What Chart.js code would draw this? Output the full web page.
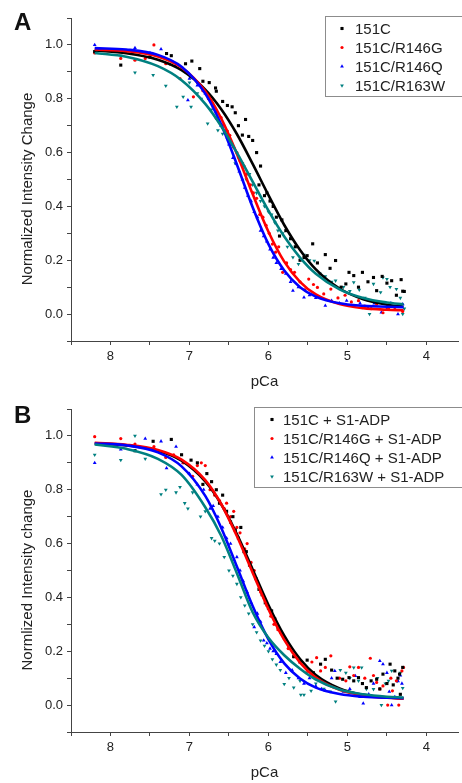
<!DOCTYPE html>
<html>
<head>
<meta charset="utf-8">
<script src="https://cdn.jsdelivr.net/npm/chart.js@4.4.0/dist/chart.umd.min.js"></script>
<style>
  body { margin: 0; background: #fff; width: 462px; height: 783px; overflow: hidden; position: relative; }
  canvas { position: absolute; left: 0; }
</style>
</head>
<body>
<canvas id="chartA" width="462" height="391" style="top:0"></canvas>
<canvas id="chartB" width="462" height="391" style="top:391px"></canvas>
<script>
// ---- data ----
const xTicks = [8.5, 8, 7.5, 7, 6.5, 6, 5.5, 5, 4.5, 4];
const yTicks = [-0.1, 0, 0.1, 0.2, 0.3, 0.4, 0.5, 0.6, 0.7, 0.8, 0.9, 1.0, 1.1];
const namesA = ["151C", "151C/R146G", "151C/R146Q", "151C/R163W"];
const namesB = ["151C + S1-ADP", "151C/R146G + S1-ADP", "151C/R146Q + S1-ADP", "151C/R163W + S1-ADP"];

// fitted curves
const fitX = [8.2, 7.8, 7.4, 7.1, 6.8, 6.6, 6.4, 6.2, 6.0, 5.8, 5.6, 5.4, 5.1, 4.8, 4.5, 4.29];
const fitA_black = [.979, .969, .945, .906, .834, .762, .669, .558, .442, .331, .238, .166, .095, .055, .035, .027];
const fitA_red   = [.983, .977, .957, .916, .828, .728, .596, .446, .306, .195, .120, .073, .037, .022, .016, .014];
const fitA_blue  = [.988, .983, .963, .919, .819, .705, .556, .397, .260, .162, .100, .065, .040, .031, .027, .026];
const fitA_teal  = [.970, .956, .921, .869, .781, .699, .600, .492, .384, .288, .210, .150, .092, .060, .043, .036];
const fitB_black = [.972, .965, .945, .908, .831, .747, .635, .504, .372, .258, .171, .112, .062, .038, .028, .024];
const fitB_red   = [.974, .967, .948, .912, .836, .748, .628, .492, .356, .242, .158, .102, .057, .036, .027, .024];
const fitB_blue  = [.972, .965, .939, .887, .777, .660, .515, .368, .244, .155, .099, .065, .041, .031, .027, .026];
const fitB_teal  = [.968, .952, .915, .855, .735, .630, .490, .345, .250, .185, .135, .095, .058, .040, .031, .028];

// panel A scatter
const aBlackX = [8.2, 7.87, 7.5, 7.29, 7.23, 7.05, 6.97, 6.87, 6.83, 6.75, 6.67, 6.66, 6.58, 6.52, 6.46, 6.42, 6.38, 6.33, 6.29, 6.25, 6.2, 6.15, 6.12, 6.1, 6.05, 6.02, 5.98, 5.94, 5.9, 5.86, 5.83, 5.78, 5.72, 5.66, 5.6, 5.55, 5.51, 5.44, 5.38, 5.28, 5.22, 5.15, 5.08, 5.02, 4.98, 4.92, 4.86, 4.81, 4.74, 4.67, 4.63, 4.56, 4.5, 4.44, 4.38, 4.32, 4.3, 4.28];
const aBlackY = [.975, .925, .955, .968, .96, .93, .94, .912, .865, .86, .84, .828, .79, .775, .77, .748, .70, .665, .723, .66, .645, .60, .48, .55, .44, .45, .42, .40, .36, .29, .35, .31, .28, .25, .20, .21, .217, .261, .19, .221, .17, .199, .10, .112, .155, .143, .10, .155, .12, .136, .087, .14, .115, .124, .07, .128, .085, .084];
const aRedX = [8.2, 7.87, 7.69, 7.56, 7.45, 7.3, 7.2, 7.12, 7.05, 6.95, 6.9, 6.83, 6.76, 6.7, 6.66, 6.6, 6.57, 6.52, 6.49, 6.44, 6.4, 6.36, 6.31, 6.27, 6.23, 6.19, 6.15, 6.11, 6.07, 6.03, 5.99, 5.95, 5.91, 5.87, 5.82, 5.77, 5.72, 5.67, 5.6, 5.54, 5.49, 5.43, 5.38, 5.3, 5.21, 5.12, 5.03, 4.95, 4.86, 4.78, 4.7, 4.63, 4.55, 4.48, 4.4, 4.35, 4.3];
const aRedY = [.97, .95, .943, .95, 1.0, .93, .935, .875, .90, .807, .86, .83, .80, .77, .727, .73, .702, .68, .664, .62, .60, .57, .55, .52, .48, .45, .43, .37, .36, .33, .30, .26, .23, .25, .155, .19, .165, .155, .12, .09, .13, .11, .099, .075, .093, .06, .07, .045, .05, .03, .02, .037, .005, .02, .018, .03, .01];
const aBlueX = [8.2, 7.69, 7.5, 7.36, 7.18, 7.08, 7.0, 7.02, 6.9, 6.8, 6.72, 6.66, 6.6, 6.55, 6.5, 6.45, 6.41, 6.37, 6.33, 6.3, 6.26, 6.22, 6.18, 6.14, 6.1, 6.06, 6.02, 5.98, 5.94, 5.9, 5.84, 5.78, 5.72, 5.69, 5.62, 5.55, 5.48, 5.4, 5.34, 5.28, 5.2, 5.1, 5.01, 4.92, 4.84, 4.74, 4.66, 4.57, 4.5, 4.45, 4.36, 4.32, 4.3];
const aBlueY = [1.0, .989, .97, .984, .922, .912, .875, .795, .85, .82, .79, .75, .70, .68, .63, .58, .56, .53, .50, .47, .44, .42, .38, .36, .31, .29, .27, .24, .21, .19, .168, .15, .12, .087, .10, .062, .07, .06, .06, .031, .05, .04, .05, .03, .04, .025, .04, .006, .02, .04, .0, .03, .037];
const aTealX = [8.2, 7.87, 7.69, 7.46, 7.3, 7.25, 7.16, 7.08, 7.0, 6.98, 6.9, 6.85, 6.77, 6.72, 6.64, 6.58, 6.52, 6.47, 6.42, 6.38, 6.33, 6.28, 6.24, 6.2, 6.15, 6.1, 6.05, 6.0, 5.96, 5.92, 5.88, 5.82, 5.76, 5.69, 5.62, 5.55, 5.48, 5.42, 5.35, 5.28, 5.2, 5.15, 5.05, 4.97, 4.92, 4.85, 4.78, 4.72, 4.67, 4.58, 4.55, 4.5, 4.46, 4.38, 4.33, 4.3, 4.28];
const aTealY = [.975, .96, .897, .888, .848, .93, .77, .807, .86, .77, .82, .80, .708, .76, .683, .67, .65, .63, .56, .58, .56, .50, .52, .48, .45, .42, .40, .38, .37, .34, .31, .30, .25, .211, .186, .22, .20, .198, .15, .14, .12, .124, .10, .085, .118, .09, .06, .0, .112, .081, .136, .13, .10, .093, .06, .0, .02];

// panel B scatter
const bBlackX = [7.69, 7.46, 7.23, 7.1, 6.98, 6.9, 6.83, 6.78, 6.72, 6.66, 6.62, 6.58, 6.53, 6.48, 6.45, 6.42, 6.38, 6.35, 6.31, 6.28, 6.24, 6.2, 6.16, 6.12, 6.08, 6.04, 6.0, 5.96, 5.92, 5.88, 5.84, 5.8, 5.74, 5.68, 5.6, 5.51, 5.43, 5.34, 5.28, 5.2, 5.13, 5.06, 4.98, 4.92, 4.86, 4.81, 4.76, 4.7, 4.63, 4.59, 4.55, 4.5, 4.46, 4.42, 4.4, 4.36, 4.34, 4.33, 4.3];
const bBlackY = [.945, .98, .987, .93, .91, .90, .82, .86, .83, .80, .75, .78, .72, .68, .70, .65, .62, .66, .57, .57, .52, .50, .47, .43, .41, .38, .36, .35, .32, .29, .27, .25, .22, .18, .16, .167, .12, .152, .17, .13, .10, .096, .102, .09, .102, .08, .065, .09, .096, .06, .115, .08, .152, .075, .127, .10, .115, .04, .14];
const bRedX = [8.2, 7.87, 7.69, 7.45, 7.3, 7.2, 7.08, 6.96, 6.9, 6.85, 6.8, 6.74, 6.68, 6.62, 6.56, 6.53, 6.48, 6.44, 6.4, 6.36, 6.3, 6.27, 6.22, 6.18, 6.14, 6.1, 6.06, 6.02, 5.97, 5.93, 5.88, 5.82, 5.75, 5.68, 5.6, 5.52, 5.45, 5.39, 5.34, 5.28, 5.21, 5.1, 5.02, 4.97, 4.92, 4.86, 4.78, 4.71, 4.67, 4.63, 4.59, 4.55, 4.49, 4.45, 4.43, 4.38, 4.35, 4.31, 4.29];
const bRedY = [.997, .99, .97, .96, .92, .93, .90, .85, .89, .90, .89, .80, .78, .76, .73, .75, .70, .72, .66, .64, .58, .60, .53, .50, .46, .42, .40, .37, .33, .30, .28, .26, .21, .18, .165, .12, .16, .176, .127, .14, .183, .10, .09, .142, .11, .14, .10, .174, .11, .084, .06, .071, .0, .10, .053, .09, .0, .127, .14];
const bBlueX = [8.2, 7.87, 7.56, 7.36, 7.29, 7.17, 7.08, 7.0, 6.9, 6.82, 6.74, 6.7, 6.64, 6.58, 6.53, 6.48, 6.44, 6.4, 6.36, 6.32, 6.27, 6.22, 6.18, 6.14, 6.1, 6.06, 6.02, 5.98, 5.94, 5.9, 5.85, 5.78, 5.7, 5.62, 5.55, 5.48, 5.4, 5.33, 5.28, 5.2, 5.16, 5.05, 4.97, 4.9, 4.84, 4.8, 4.73, 4.67, 4.59, 4.55, 4.5, 4.47, 4.44, 4.4, 4.36, 4.33, 4.31];
const bBlueY = [.90, .95, .99, .98, .88, .96, .90, .86, .82, .80, .73, .74, .70, .66, .62, .60, .54, .55, .50, .46, .42, .38, .29, .34, .31, .24, .23, .21, .20, .19, .16, .12, .13, .10, .08, .10, .07, .06, .053, .10, .127, .05, .06, .108, .03, .006, .04, .08, .164, .152, .12, .05, .0, .03, .089, .11, .08];
const bTealX = [8.2, 7.87, 7.69, 7.56, 7.36, 7.3, 7.17, 7.12, 7.06, 7.02, 6.96, 6.86, 6.8, 6.72, 6.68, 6.62, 6.56, 6.5, 6.45, 6.4, 6.35, 6.3, 6.25, 6.2, 6.15, 6.1, 6.05, 6.0, 5.95, 5.9, 5.85, 5.8, 5.74, 5.68, 5.6, 5.59, 5.55, 5.46, 5.4, 5.3, 5.22, 5.15, 5.09, 5.02, 4.97, 4.92, 4.86, 4.82, 4.76, 4.67, 4.62, 4.57, 4.52, 4.48, 4.44, 4.37, 4.33, 4.3];
const bTealY = [.93, .91, 1.0, .915, .783, .80, .79, .81, .75, .73, .79, .70, .72, .62, .61, .60, .55, .50, .48, .45, .40, .37, .34, .30, .27, .24, .22, .20, .17, .15, .13, .078, .10, .065, .09, .038, .038, .053, .08, .06, .05, .013, .13, .12, .10, .139, .09, .139, .06, .059, .10, .0, .08, .09, .127, .089, .12, .063];

const colors = ["#000000", "#ff0000", "#0000ff", "#008080"];

function pts(xs, ys) {
    return xs.map((x, i) => ({ x: x, y: ys[i] }));
}

// marker style per series: square, circle, triangle, down triangle
const markers = [
    { pointStyle: "rect", pointRadius: 2.2, rotation: 0 },
    { pointStyle: "circle", pointRadius: 1.6, rotation: 0 },
    { pointStyle: "triangle", pointRadius: 2.2, rotation: 0 },
    { pointStyle: "triangle", pointRadius: 2.2, rotation: 180 }
];

// legend box, panel letter and rotated y title
const panelDeco = {
    id: "panelDeco",
    afterDraw(chart, args, opts) {
        const ctx = chart.ctx;
        ctx.save();
        ctx.strokeStyle = "#8c8c8c";
        ctx.lineWidth = 1;
        ctx.strokeRect(opts.boxLeft + 0.5, 16.5, 462 - opts.boxLeft, 80);
        ctx.font = "15px Arial, 'Liberation Sans', sans-serif";
        ctx.textBaseline = "middle";
        let row = 0;
        chart.data.datasets.forEach((d) => {
            if (!d.label) return;
            const y = 28.5 + row * 19;
            ctx.fillStyle = d.backgroundColor;
            Chart.helpers.drawPoint(ctx, { pointStyle: d.pointStyle, radius: d.pointRadius, rotation: d.rotation, borderWidth: 0 }, opts.markerX, y);
            ctx.fillStyle = "#222";
            ctx.fillText(d.label, opts.textX, y + 1);
            row++;
        });
        ctx.fillStyle = "#111";
        ctx.font = "bold 24px Arial, 'Liberation Sans', sans-serif";
        ctx.textBaseline = "alphabetic";
        ctx.fillText(opts.tag, 14, opts.tagY);
        ctx.translate(28, 189);
        ctx.rotate(-Math.PI / 2);
        ctx.font = "15px Arial, 'Liberation Sans', sans-serif";
        ctx.fillStyle = "#222";
        ctx.textAlign = "center";
        ctx.textBaseline = "middle";
        ctx.fillText(opts.yTitle, 0, 0);
        ctx.restore();
    }
};

function makePanel(id, names, series, fits, deco) {
    let datasets = [];
    // curves on top of the points
    fits.forEach((f, i) => {
        datasets.push({
            data: pts(fitX, f),
            showLine: true,
            borderColor: colors[i],
            borderWidth: 2.6,
            pointRadius: 0,
            cubicInterpolationMode: "monotone",
            order: 3 - i
        });
    });
    series.forEach((s, i) => {
        datasets.push({
            label: names[i],
            data: pts(s[0], s[1]),
            backgroundColor: colors[i],
            borderWidth: 0,
            pointStyle: markers[i].pointStyle,
            pointRadius: markers[i].pointRadius,
            rotation: markers[i].rotation,
            order: 10 + i
        });
    });

    return new Chart(document.getElementById(id), {
        type: "scatter",
        data: { datasets: datasets },
        options: {
            responsive: false,
            animation: false,
            layout: { padding: { left: 20, top: 18, right: 1, bottom: 0 } },
            plugins: { legend: { display: false }, tooltip: { enabled: false }, panelDeco: deco },
            scales: {
                x: {
                    type: "linear",
                    reverse: true,
                    min: 3.6,
                    max: 8.5,
                    afterBuildTicks: (scale) => { scale.ticks = xTicks.map(v => ({ value: v })); },
                    afterFit: (scale) => { scale.height = 50; },
                    grid: { drawOnChartArea: false, tickLength: 4, color: "#444" },
                    border: { color: "#444", width: 1 },
                    ticks: {
                        color: "#222",
                        padding: 4,
                        maxRotation: 0,
                        font: { family: "Arial, 'Liberation Sans', sans-serif", size: 13 },
                        callback: (v) => Number.isInteger(v) ? String(v) : ""
                    },
                    title: {
                        display: true,
                        text: "pCa",
                        color: "#222",
                        padding: 0,
                        font: { family: "Arial, 'Liberation Sans', sans-serif", size: 15 }
                    }
                },
                y: {
                    type: "linear",
                    min: -0.1,
                    max: 1.1,
                    afterBuildTicks: (scale) => { scale.ticks = yTicks.map(v => ({ value: v })); },
                    afterFit: (scale) => { scale.width = 51; },
                    grid: { drawOnChartArea: false, tickLength: 4, color: "#444" },
                    border: { color: "#444", width: 1 },
                    ticks: {
                        color: "#222",
                        padding: 4,
                        font: { family: "Arial, 'Liberation Sans', sans-serif", size: 13 },
                        callback: (v) => {
                            const k = Math.round(v * 10);
                            return (k >= 0 && k <= 10 && k % 2 === 0) ? (k / 10).toFixed(1) : "";
                        }
                    }
                }
            }
        },
        plugins: [panelDeco]
    });
}

makePanel("chartA", namesA,
    [[aBlackX, aBlackY], [aRedX, aRedY], [aBlueX, aBlueY], [aTealX, aTealY]],
    [fitA_black, fitA_red, fitA_blue, fitA_teal],
    { tag: "A", tagY: 30, boxLeft: 325, markerX: 342, textX: 355, yTitle: "Normalized Intensity Change" });

makePanel("chartB", namesB,
    [[bBlackX, bBlackY], [bRedX, bRedY], [bBlueX, bBlueY], [bTealX, bTealY]],
    [fitB_black, fitB_red, fitB_blue, fitB_teal],
    { tag: "B", tagY: 32, boxLeft: 254, markerX: 272, textX: 283, yTitle: "Normlized Intensity change" });
</script>
</body>
</html>
